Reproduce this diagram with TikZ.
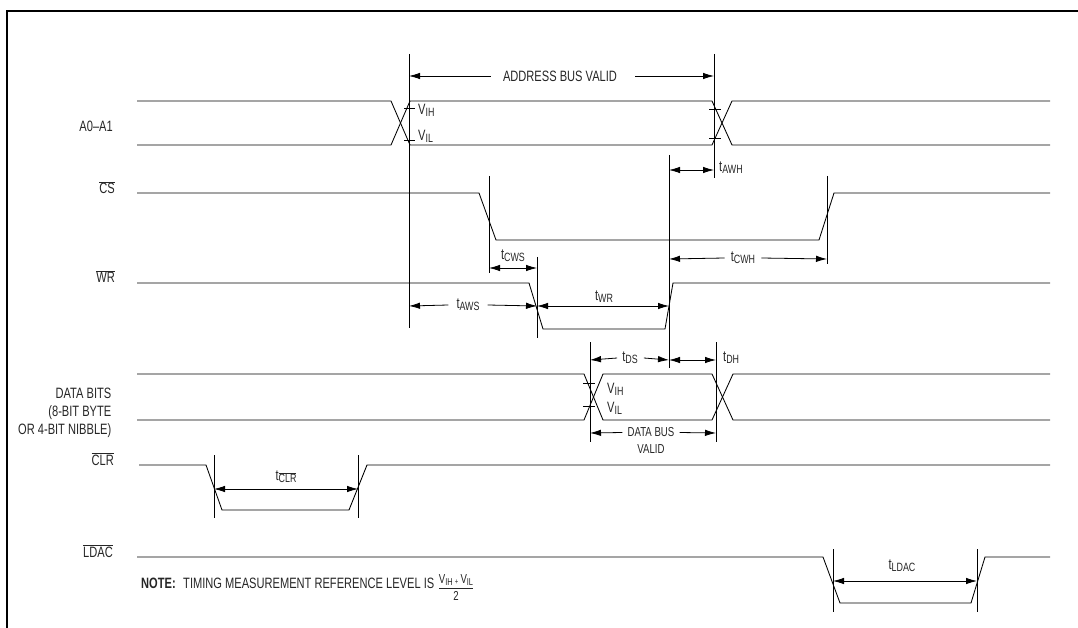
\documentclass[tikz,border=0pt]{standalone}
\usepackage{fontspec}
\setmainfont{Liberation Sans}[FakeStretch=0.74]
\usetikzlibrary{arrows.meta}
\newcommand\tsb[2]{#1\raisebox{-0.12em}{\fontsize{12}{13}\selectfont #2}}
\newcommand\ovl[1]{$\overline{\mbox{#1}}$}
\begin{document}
\begin{tikzpicture}[x=1pt,y=-1pt,
  sig/.style={line width=0.85pt, line join=miter},
  vln/.style={line width=0.95pt},
  tck/.style={line width=0.8pt},
  dim/.style={line width=0.8pt, {Latex[length=11pt,width=6.5pt]}-{Latex[length=11pt,width=6.5pt]}},
  dimr/.style={line width=0.8pt, -{Latex[length=11pt,width=6.5pt]}},
  lbl/.style={font=\fontsize{15}{17}\selectfont, text=black!85, inner sep=0pt},
  sml/.style={font=\fontsize{13}{14}\selectfont, text=black!85, inner sep=0pt},
  frc/.style={font=\fontsize{13}{14}\selectfont, text=black!85, inner sep=0pt}]
\useasboundingbox (0,0) rectangle (1078,628);
% frame
\draw[line width=2pt] (7,628) -- (7,11) -- (1078,11);

% signal names
\node[lbl, anchor=base east] (nA) at (113,132) {A0–A1};
\node[lbl, anchor=base east] (nCS) at (115,194) {\ovl{CS}};
\node[lbl, anchor=base east] (nWR) at (115,283) {\ovl{WR}};
\node[lbl, anchor=base east] (nD1) at (111.5,398) {DATA BITS};
\node[lbl, anchor=base east] (nD2) at (111.5,416) {(8-BIT BYTE};
\node[lbl, anchor=base east] (nD3) at (111.5,434) {OR 4-BIT NIBBLE)};
\node[lbl, anchor=base east] (nCLR) at (114,465) {\ovl{CLR}};
\node[lbl, anchor=base east] (nLD) at (113,557) {\ovl{LDAC}};

% waveforms
\draw[sig] (137,101) -- (391,101) -- (410,145) -- (712,145) -- (732,101) -- (1050,101);
\draw[sig] (137,145) -- (391,145) -- (410,101) -- (712,101) -- (732,145) -- (1050,145);
\draw[sig] (137,193) -- (479,193) -- (496,240) -- (819,240) -- (834,193) -- (1050,193);
\draw[sig] (137,283) -- (529,283) -- (543,329) -- (665,329) -- (673,283) -- (1050,283);
\draw[sig] (137,374) -- (584,374) -- (603,420) -- (712,420) -- (733,374) -- (1050,374);
\draw[sig] (137,420) -- (584,420) -- (603,374) -- (712,374) -- (733,420) -- (1050,420);
\draw[sig] (139,465) -- (206,465) -- (222,510) -- (349,510) -- (367,465) -- (1050,465);
\draw[sig] (137,557) -- (823,557) -- (840,603) -- (971,603) -- (985,557) -- (1050,557);

% level ticks
\draw[tck] (404,108) -- (415,108) (404,140) -- (415,140);
\draw[tck] (709,109) -- (721,109) (709,138) -- (721,138);
\draw[tck] (583,383) -- (595,383) (583,406) -- (595,406);

% vertical reference lines
\draw[vln] (409,54) -- (409,328);
\draw[vln] (714,54) -- (714,178);
\draw[vln] (669,155) -- (669,368);
\draw[vln] (489,176) -- (489,273);
\draw[vln] (827,176) -- (827,264);
\draw[vln] (537,257) -- (537,338);
\draw[vln] (590,342) -- (590,442);
\draw[vln] (716,342) -- (716,442);
\draw[vln] (214,455) -- (214,518);
\draw[vln] (358,455) -- (358,518);
\draw[vln] (833,549) -- (833,612);
\draw[vln] (977,549) -- (977,612);

% ADDRESS BUS VALID
\node[lbl] (addr) at (560,76) {ADDRESS BUS VALID};
\draw[dimr] ([xshift=-12pt]addr.west) -- (409,76);
\draw[dimr] ([xshift=18pt]addr.east) -- (714,76);
\node[lbl, anchor=west] (vih1) at (418,110) {\tsb{V}{IH}};
\node[lbl, anchor=west] (vil1) at (418,136) {\tsb{V}{IL}};

% tAWH
\draw[dim] (669,170) -- (714,170);
\node[lbl, anchor=west] (tawh) at (719,168) {\tsb{t}{AWH}};
% tCWS
\draw[dim] (489,268) -- (537,268);
\node[lbl] (tcws) at (513,256) {\tsb{t}{CWS}};
% tAWS
\node[lbl] (taws) at (468,305) {\tsb{t}{AWS}};
\draw[dimr] ([xshift=-8pt]taws.west) -- (409,306);
\draw[dimr] ([xshift=8pt]taws.east) -- (537,306);
% tWR
\draw[dim] (537,306) -- (669,306);
\node[lbl] (twr) at (604,297) {\tsb{t}{WR}};
% tCWH
\node[lbl] (tcwh) at (743,258) {\tsb{t}{CWH}};
\draw[dimr] ([xshift=-6pt]tcwh.west) -- (669,259);
\draw[dimr] ([xshift=6pt]tcwh.east) -- (827,259);
% tDS
\node[lbl] (tds) at (630,358) {\tsb{t}{DS}};
\draw[dimr] ([xshift=-5pt]tds.west) -- (590,360);
\draw[dimr] ([xshift=6pt]tds.east) -- (669,360);
% tDH
\draw[dim] (669,360) -- (716,360);
\node[lbl, anchor=west] (tdh) at (723,358) {\tsb{t}{DH}};
% data V levels
\node[lbl, anchor=west] (vih2) at (607,389) {\tsb{V}{IH}};
\node[lbl, anchor=west] (vil2) at (607,408) {\tsb{V}{IL}};
% DATA BUS VALID
\node[sml] (dbv) at (651,432.5) {DATA BUS};
\node[sml] (dbv2) at (651,449) {VALID};
\draw[dimr] ([xshift=-5pt]dbv.west) -- (590,433);
\draw[dimr] ([xshift=5pt]dbv.east) -- (716,433);
% tCLR
\draw[dim] (214,489) -- (358,489);
\node[lbl] (tclr) at (286,477) {t\raisebox{-0.12em}{\fontsize{12}{13}\selectfont\ovl{CLR}}};
% tLDAC
\draw[dim] (833,581) -- (977,581);
\node[lbl] (tldac) at (902,566) {\tsb{t}{LDAC}};

% note
\node[lbl, anchor=base west] (note) at (141,588) {\textbf{NOTE:}\enspace TIMING MEASUREMENT REFERENCE LEVEL IS};
\node[frc] (num) at (456,580) {V\raisebox{-0.12em}{\fontsize{10}{11}\selectfont IH}\,\raisebox{-0.1em}{\fontsize{8}{9}\selectfont +}\,V\raisebox{-0.12em}{\fontsize{10}{11}\selectfont IL}};
\node[frc] (den) at (456,596) {2};
\draw[line width=0.7pt, black!85] (439,588) -- (473,588);
\end{tikzpicture}
\end{document}
